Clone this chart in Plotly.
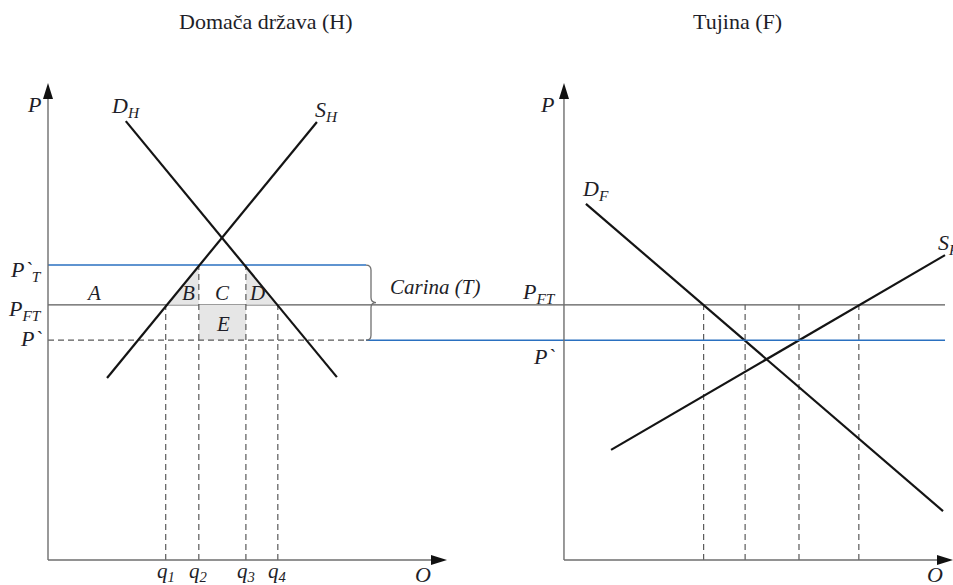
import plotly.graph_objects as go

# ---------------- data (economic units) ----------------
# price levels (shared by both panels)
P_T = 7.42      # P`_T  world price + tariff
P_FT = 6.42     # P_FT  free-trade price
P_W = 5.53      # P`    world price with tariff

# home country (H)
q_home = [2.95, 3.78, 4.96, 5.76]
q_home_labels = ["q<sub>1</sub>", "q<sub>2</sub>", "q<sub>3</sub>", "q<sub>4</sub>"]
SH_q = [1.48, 6.74]
SH_p = [4.58, 11.02]
DH_q = [1.95, 7.24]
DH_p = [11.04, 4.60]
tariff_line_end = 7.97     # where the P`T line / P` dashed line ends in H panel

# foreign country (F)
q_foreign = [3.50, 4.54, 5.89, 7.39]
DF_q = [0.55, 9.50]
DF_p = [8.96, 1.23]
SF_q = [1.18, 9.55]
SF_p = [2.77, 7.67]
foreign_line_end = 9.55

# axis extents
Q_MAX_H = 10.0
Q_MAX_F = 9.75
P_MAX = 12.0

# ---------------- styles ----------------
W, H = 953, 585
PX_PER_Q = 39.9
PX_PER_P = 39.75
X1_DOM = [0, 447 / W]
X2_DOM = [500 / W, 1.0]
X1_RANGE = [-(X1_DOM[1] * W) / PX_PER_Q + Q_MAX_H, Q_MAX_H]
X2_RANGE = [Q_MAX_F - (X2_DOM[1] - X2_DOM[0]) * W / PX_PER_Q, Q_MAX_F]
Y_RANGE = [-25 / PX_PER_P, 560 / PX_PER_P]

BLACK = "#141414"
AXIS = "#6e6e6e"
GREY = "#5a5a5a"
BLUE = "#2a70c0"
SHADE = "#e6e6e6"
TXT = "#1e1e28"
FONT = "Liberation Serif"
LSIZE = 22


def to_paper(q, dom, rng):
    return dom[0] + (q - rng[0]) / (rng[1] - rng[0]) * (dom[1] - dom[0])


fig = go.Figure()


def line(xs, ys, xa="x", color=BLACK, width=2.2, dash="solid", fill=None, fillcolor=None):
    fig.add_trace(go.Scatter(
        x=xs, y=ys, xaxis=xa, yaxis="y", mode="lines",
        line=dict(color=color, width=width, dash=dash),
        fill=fill, fillcolor=fillcolor, hoverinfo="skip", showlegend=False))


# shaded areas B, D, E (home)
line([q_home[0], q_home[1], q_home[1], q_home[0]], [P_FT, P_T, P_FT, P_FT],
     width=0, color="rgba(0,0,0,0)", fill="toself", fillcolor=SHADE)
line([q_home[2], q_home[3], q_home[2], q_home[2]], [P_T, P_FT, P_FT, P_T],
     width=0, color="rgba(0,0,0,0)", fill="toself", fillcolor=SHADE)
line([q_home[1], q_home[2], q_home[2], q_home[1], q_home[1]], [P_W, P_W, P_FT, P_FT, P_W],
     width=0, color="rgba(0,0,0,0)", fill="toself", fillcolor=SHADE)

DASH = "6px,4px"
# home dashed verticals
tops_home = [P_FT, P_T, P_T, P_FT]
for q, t in zip(q_home, tops_home):
    line([q, q], [0, t], color=GREY, width=1.2, dash=DASH)
# P` dashed (home)
line([0, tariff_line_end], [P_W, P_W], color=GREY, width=1.2, dash=DASH)
# P`T blue (home)
line([0, tariff_line_end], [P_T, P_T], color=BLUE, width=1.6)

# foreign dashed verticals
for q in q_foreign:
    line([q, q], [0, P_FT], xa="x2", color=GREY, width=1.2, dash=DASH)

# curves
line(SH_q, SH_p)
line(DH_q, DH_p)
line(DF_q, DF_p, xa="x2")
line(SF_q, SF_p, xa="x2")

shapes = []
# P_FT line across both panels
shapes.append(dict(type="line", xref="paper", yref="y",
                   x0=to_paper(0, X1_DOM, X1_RANGE), x1=to_paper(foreign_line_end, X2_DOM, X2_RANGE),
                   y0=P_FT, y1=P_FT, line=dict(color=GREY, width=1.3), layer="below"))
# P` blue line from brace to foreign panel
shapes.append(dict(type="line", xref="paper", yref="y",
                   x0=to_paper(tariff_line_end, X1_DOM, X1_RANGE), x1=to_paper(foreign_line_end, X2_DOM, X2_RANGE),
                   y0=P_W, y1=P_W, line=dict(color=BLUE, width=1.6)))
# curly brace (tariff)
bx0 = tariff_line_end
bx1 = bx0 + 5 / PX_PER_Q
bx2 = bx0 + 10 / PX_PER_Q
r = 5 / PX_PER_P
ym = (P_T + P_W) / 2
path = (f"M {bx0},{P_T} Q {bx1},{P_T} {bx1},{P_T - r} L {bx1},{ym + r} "
        f"Q {bx1},{ym} {bx2},{ym} Q {bx1},{ym} {bx1},{ym - r} L {bx1},{P_W + r} "
        f"Q {bx1},{P_W} {bx0},{P_W}")
shapes.append(dict(type="path", xref="x", yref="y", path=path,
                   line=dict(color="#707070", width=1.3)))


def axis_line(xa, x0, y0, x1, y1):
    shapes.append(dict(type="line", xref=xa, yref="y", x0=x0, y0=y0, x1=x1, y1=y1,
                       line=dict(color=AXIS, width=1.4)))


HEAD_L, HEAD_W = 16, 5  # arrowhead length / half-width (px)


def head_up(xa, x, y):
    dx = HEAD_W / PX_PER_Q
    dy = HEAD_L / PX_PER_P
    shapes.append(dict(type="path", xref=xa, yref="y",
                       path=f"M {x},{y} L {x - dx},{y - dy} L {x + dx},{y - dy} Z",
                       fillcolor="#111", line=dict(width=0)))


def head_right(xa, x, y):
    dx = HEAD_L / PX_PER_Q
    dy = HEAD_W / PX_PER_P
    shapes.append(dict(type="path", xref=xa, yref="y",
                       path=f"M {x},{y} L {x - dx},{y + dy} L {x - dx},{y - dy} Z",
                       fillcolor="#111", line=dict(width=0)))


# axes
axis_line("x", 0, 0, 0, P_MAX - 0.2)
axis_line("x", 0, 0, Q_MAX_H - 0.2, 0)
axis_line("x2", 0, 0, 0, P_MAX - 0.2)
axis_line("x2", 0, 0, Q_MAX_F - 0.2, 0)
head_up("x", 0, P_MAX)
head_right("x", Q_MAX_H, 0)
head_up("x2", 0, P_MAX)
head_right("x2", Q_MAX_F, 0)

ann = []


def label(xa, x, y, text, size=LSIZE, xanchor="center", yanchor="middle", italic=True):
    t = f"<i>{text}</i>" if italic else text
    ann.append(dict(xref=xa, yref="y", x=x, y=y, text=t, showarrow=False,
                    xanchor=xanchor, yanchor=yanchor,
                    font=dict(family=FONT, size=size, color=TXT)))


# home labels
label("x", -0.12, 11.45, "P", xanchor="right")
label("x", 1.95, 11.4, "D<sub>H</sub>")
label("x", 6.98, 11.3, "S<sub>H</sub>")
label("x", -0.1, P_T - 0.15, "P`<sub>T</sub>", xanchor="right")
label("x", -0.1, P_FT - 0.12, "P<sub>FT</sub>", xanchor="right")
label("x", -0.1, P_W + 0.05, "P`", xanchor="right")
label("x", 1.15, P_FT + 0.3, "A", size=21)
label("x", 3.53, P_FT + 0.3, "B", size=21)
label("x", 4.38, P_FT + 0.3, "C", size=21)
label("x", 5.24, P_FT + 0.3, "D", size=21)
label("x", 4.38, (P_FT + P_W) / 2 - 0.05, "E", size=21)
label("x", 8.52, P_FT + 0.45, "Carina (T)", size=21, xanchor="left")
for q, t in zip(q_home, q_home_labels):
    label("x", q, -0.29, t, size=21)
label("x", 9.4, -0.36, "O")

# foreign labels
label("x2", -0.42, 11.45, "P")
label("x2", 0.78, 9.3, "D<sub>F</sub>")
label("x2", 9.33, 7.95, "S<sub>F</sub>", xanchor="left")
label("x2", -0.62, P_FT + 0.3, "P<sub>FT</sub>")
label("x2", -0.5, P_W - 0.42, "P`")
label("x2", 9.3, -0.36, "O")

# titles
ann.append(dict(xref="paper", yref="paper", x=265 / W, y=1 - 22 / H, text="Domača država (H)",
                showarrow=False, xanchor="center", yanchor="middle",
                font=dict(family=FONT, size=22, color=TXT)))
ann.append(dict(xref="paper", yref="paper", x=737 / W, y=1 - 22 / H, text="Tujina (F)",
                showarrow=False, xanchor="center", yanchor="middle",
                font=dict(family=FONT, size=22, color=TXT)))

fig.update_layout(
    width=W, height=H, margin=dict(l=0, r=0, t=0, b=0),
    paper_bgcolor="white", plot_bgcolor="white", showlegend=False,
    xaxis=dict(domain=X1_DOM, range=X1_RANGE, visible=False, anchor="y"),
    xaxis2=dict(domain=X2_DOM, range=X2_RANGE, visible=False, anchor="y"),
    yaxis=dict(domain=[0, 1], range=Y_RANGE, visible=False),
    shapes=shapes, annotations=ann,
)

fig.write_html("out.html", config={"displayModeBar": False},
               post_script="document.body.style.margin='0';document.body.style.overflow='hidden';")
